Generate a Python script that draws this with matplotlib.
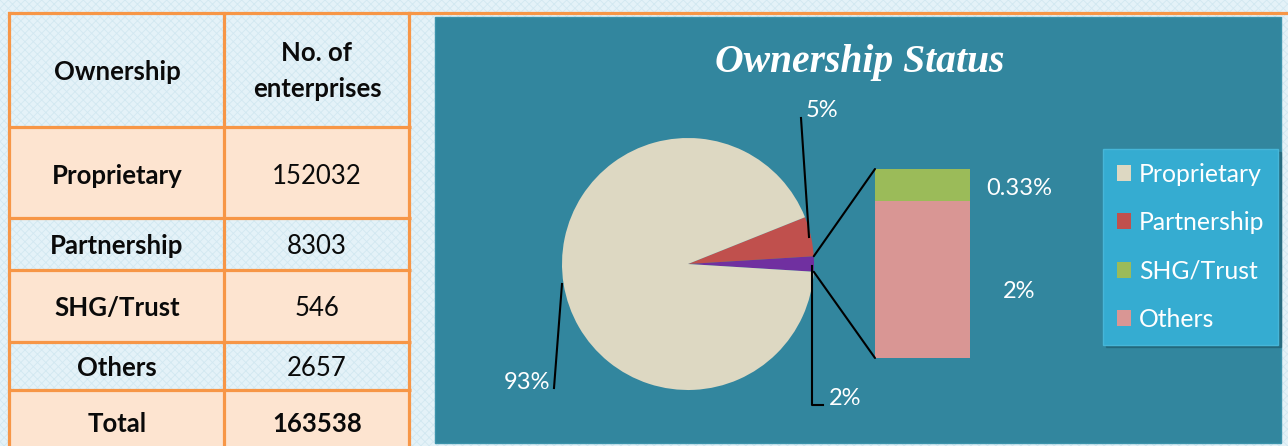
import matplotlib
matplotlib.use('Agg')
import matplotlib.pyplot as plt
from matplotlib.patches import Rectangle, ConnectionPatch, Patch
import numpy as np

# ---------------- data ----------------
ownership = ['Proprietary', 'Partnership', 'SHG/Trust', 'Others']
enterprises = [152032, 8303, 546, 2657]
total_name = 'Total'
total_value = 163538
header = ['Ownership', 'No. of', 'enterprises']
chart_title = 'Ownership Status'

colors = ['#ddd8c2', '#c0504d', '#9bbb59', '#d99694']
combined_color = '#7030a0'

def pct(v):
    p = v / total_value * 100
    return f"{p:.2f}%" if p < 1 else f"{p:.0f}%"

# ---------------- figure ----------------
W, H = 1288, 446
plt.rcParams['font.family'] = ['Lato', 'DejaVu Sans']
fig = plt.figure(figsize=(W / 100, H / 100), dpi=100)

def fax(x0, y0, x1, y1):
    return [x0 / W, 1 - y1 / H, (x1 - x0) / W, (y1 - y0) / H]

bg = fig.add_axes([0, 0, 1, 1])
bg.set_xlim(0, W); bg.set_ylim(H, 0); bg.axis('off')
plt.rcParams['hatch.linewidth'] = 0.6
bg.add_patch(Rectangle((0, 0), W, H, facecolor='#e4f2f8', edgecolor='#d2e8f1',
                       hatch='xxxx', lw=0, zorder=0))

# ---------------- table ----------------
orange = '#f79646'
peach = '#fde4d0'
row_edges = [12.5, 127, 218, 270, 342, 390, 450]
row_fill = [None, peach, None, peach, None, peach]
xl, xm, xr = 9.5, 224, 409.5
for i, f in enumerate(row_fill):
    if f:
        bg.add_patch(Rectangle((xl, row_edges[i]), xr - xl, row_edges[i + 1] - row_edges[i],
                               facecolor=f, lw=0, zorder=1))
for y in row_edges[:-1]:
    bg.plot([xl - 1.5, xr + 1.5], [y, y], color=orange, lw=2.3, zorder=2, solid_capstyle='butt')
bg.plot([xr, W], [12.5, 12.5], color=orange, lw=2.3, zorder=2)
for x in (xl, xm, xr):
    bg.plot([x, x], [12.5, 450], color=orange, lw=2.3, zorder=2)

fs_tab = 18.5
tc = '#0a0a0a'
bg.text(117, 80, header[0], ha='center', va='baseline', fontsize=fs_tab, fontweight='bold', color=tc)
bg.text(317, 61, header[1], ha='center', va='baseline', fontsize=fs_tab, fontweight='bold', color=tc)
bg.text(317, 97, header[2], ha='center', va='baseline', fontsize=fs_tab, fontweight='bold', color=tc)
baselines = [184, 254, 316, 376]
for name, val, yb in zip(ownership, enterprises, baselines):
    bg.text(117, yb, name, ha='center', va='baseline', fontsize=fs_tab, fontweight='bold', color=tc)
    bg.text(317, yb, str(val), ha='center', va='baseline', fontsize=fs_tab, color=tc)
bg.text(117, 432, total_name, ha='center', va='baseline', fontsize=fs_tab, fontweight='bold', color=tc)
bg.text(317, 432, str(total_value), ha='center', va='baseline', fontsize=fs_tab, fontweight='bold', color=tc)

# ---------------- chart panel ----------------
bg.add_patch(Rectangle((435, 17), 846, 426, facecolor='#32869e', edgecolor='#3b93ab', lw=1, zorder=1))
bg.text(860, 72, chart_title, ha='center', va='baseline', fontsize=28.5, fontweight='bold',
        fontstyle='italic', family='Liberation Serif', color='white', zorder=3)

# pie of main categories + combined
combined = enterprises[2] + enterprises[3]
pie_vals = [combined, enterprises[1], enterprises[0]]
pie_cols = [combined_color, colors[1], colors[0]]
half = combined / total_value * 360 / 2
pax = fig.add_axes(fax(562, 138, 814, 390))
pax.pie(pie_vals, colors=pie_cols, startangle=-half, counterclock=True,
        wedgeprops=dict(linewidth=0))
pax.set_xlim(-1, 1); pax.set_ylim(-1, 1); pax.set_aspect('equal')
pax.axis('off')

# bar of the combined part
bax = fig.add_axes(fax(875, 169, 970, 358))
bax.bar([0], [enterprises[3]], width=1, align='edge', color=colors[3], lw=0)
bax.bar([0], [enterprises[2]], bottom=[enterprises[3]], width=1, align='edge', color=colors[2], lw=0)
bax.set_xlim(0, 1); bax.set_ylim(0, combined); bax.axis('off')

a1, a2 = np.deg2rad(half), np.deg2rad(-half)
for ang, yb in ((a1, combined), (a2, 0)):
    cp = ConnectionPatch(xyA=(np.cos(ang), np.sin(ang)), coordsA=pax.transData,
                         xyB=(0, yb), coordsB=bax.transData, color='black', lw=1.5, zorder=20)
    fig.add_artist(cp)

# labels overlay
ov = fig.add_axes([0, 0, 1, 1], zorder=10)
ov.set_xlim(0, W); ov.set_ylim(H, 0); ov.axis('off'); ov.patch.set_alpha(0)
fs_lab = 17
lab_kw = dict(fontsize=fs_lab, color='white', ha='center', va='baseline')
ov.plot([801, 809], [118, 237], color='black', lw=1.5)
ov.text(822, 117, pct(enterprises[1]), **lab_kw)
ov.plot([554, 562], [388, 284], color='black', lw=1.5)
ov.text(527, 389, pct(enterprises[0]), **lab_kw)
ov.plot([812, 812, 823], [266, 405, 405], color='black', lw=1.5)
ov.text(845, 405, pct(combined), **lab_kw)
ov.text(1019, 195, pct(enterprises[2]), **lab_kw)
ov.text(1019, 298, pct(enterprises[3]), **lab_kw)

# legend
handles = [Patch(facecolor=c, edgecolor='none') for c in colors]
leg = fig.legend(handles, ownership, loc='upper left',
                 bbox_to_anchor=(1103 / W, 1 - 149 / H), borderaxespad=0,
                 fontsize=17.8, handlelength=0.6, handleheight=0.6, handletextpad=0.3,
                 labelspacing=1.03, borderpad=0.55, fancybox=False, framealpha=1,
                 facecolor='#35acd1', edgecolor='#46b6d8', labelcolor='white',
                 shadow={'color': '#1e5e70', 'alpha': 0.6})
leg.set_zorder(30)

fig.savefig('out.png', dpi=100)
